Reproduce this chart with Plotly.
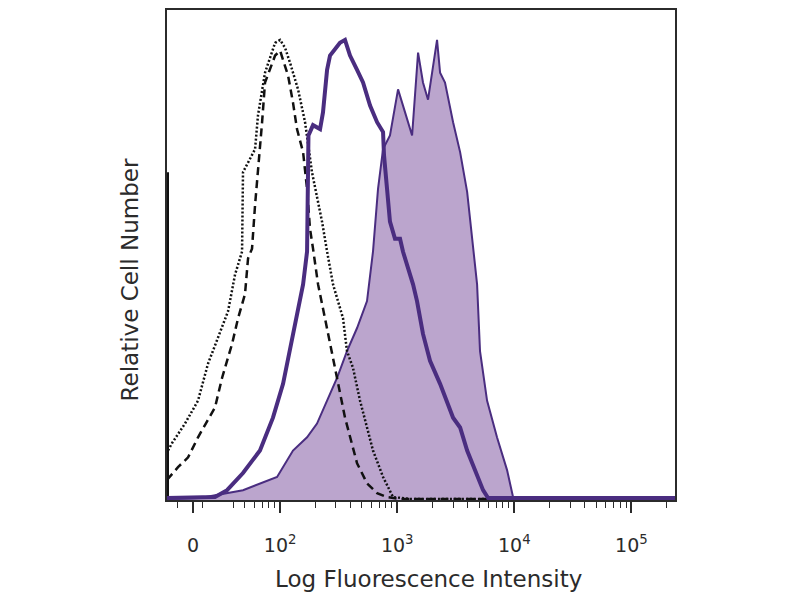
import plotly.graph_objects as go
import math

# x values are in display decades of the biexponential axis (2 = 10^2, 3 = 10^3 ...)
# y values are relative cell number (% of max scale)

stained_x = [1.034, 1.316, 1.683, 1.828, 1.974, 2.110, 2.230, 2.315, 2.401, 2.486, 2.571, 2.657,
             2.742, 2.768, 2.793, 2.836, 2.879, 2.938, 3.007, 3.067, 3.127, 3.178, 3.220, 3.263,
             3.340, 3.366, 3.408, 3.477, 3.537, 3.597, 3.648, 3.682, 3.707, 3.767, 3.852, 3.938,
             3.989, 4.049, 5.372]
stained_y = [0.2, 0.4, 2.0, 3.4, 4.7, 10.1, 12.8, 15.6, 20.3, 24.9, 30.4, 35.1,
             40.6, 45.2, 50.7, 63.5, 71.6, 74.4, 83.8, 79.1, 74.4, 91.3, 85.2, 81.7,
             93.9, 87.2, 85.2, 77.1, 71.0, 62.9, 51.7, 44.0, 30.4, 20.3, 12.8, 6.1,
             0.6, 0.2, 0.2]

purple_x = [1.034, 1.444, 1.547, 1.683, 1.828, 1.939, 2.025, 2.110, 2.196, 2.230, 2.238, 2.242,
            2.281, 2.341, 2.366, 2.401, 2.426, 2.511, 2.554, 2.597, 2.657, 2.708, 2.768, 2.828,
            2.879, 2.887, 2.913, 2.938, 2.981, 3.024, 3.049, 3.135, 3.169, 3.220, 3.280, 3.366,
            3.477, 3.537, 3.597, 3.682, 3.733, 3.776, 5.372]
purple_y = [0.4, 0.6, 2.0, 5.5, 10.1, 16.8, 23.7, 33.9, 44.0, 50.7, 66.9, 74.4,
            76.5, 75.7, 79.1, 87.8, 90.7, 93.3, 93.9, 90.7, 87.8, 85.2, 80.5, 77.1,
            75.1, 70.4, 63.5, 56.8, 53.3, 53.3, 50.7, 44.0, 40.6, 33.9, 28.4, 23.7,
            16.8, 14.8, 10.1, 4.7, 2.0, 0.4, 0.4]

dotted_x = [1.043, 1.077, 1.188, 1.299, 1.384, 1.470, 1.555, 1.615, 1.675, 1.683, 1.786,
            1.811, 1.871, 1.957, 2.000, 2.042, 2.085, 2.153, 2.213, 2.272, 2.358, 2.401, 2.452,
            2.537, 2.571, 2.622, 2.682, 2.742, 2.793, 2.879, 2.964, 3.110, 5.372]
dotted_y = [10.1, 11.6, 15.6, 20.3, 27.8, 33.1, 38.5, 46.0, 50.7, 66.9, 71.6,
            78.5, 87.2, 93.3, 93.9, 92.3, 89.2, 83.8, 77.1, 66.9, 56.8, 50.7, 44.0,
            37.1, 30.4, 27.0, 20.3, 14.8, 10.1, 4.7, 0.6, 0.2, 0.2]

dashed_x = [1.034, 1.128, 1.214, 1.299, 1.444, 1.504, 1.589, 1.641, 1.700, 1.726, 1.760, 1.786,
            1.846, 1.871, 1.957, 2.000, 2.068, 2.110, 2.144, 2.196, 2.230, 2.255, 2.281, 2.324,
            2.383, 2.443, 2.494, 2.554, 2.657, 2.742, 2.828, 2.913, 3.024, 5.372]
dashed_y = [4.1, 6.7, 8.7, 12.8, 18.9, 24.9, 31.8, 37.1, 42.0, 49.3, 51.3, 60.2,
            77.1, 85.2, 90.7, 91.7, 86.6, 81.1, 75.7, 71.0, 63.5, 55.4, 51.3, 44.0,
            37.1, 29.8, 23.7, 16.8, 7.5, 3.4, 1.4, 0.6, 0.2, 0.2]

# events piled up at the lower axis limit
pileup_x = [1.034, 1.034]
pileup_y = [0, 66.9]

tick_vals = [1.256, 2, 3, 4, 5]
tick_text = ["0", "10<sup>2</sup>", "10<sup>3</sup>", "10<sup>4</sup>", "10<sup>5</sup>"]
minor_vals = [1.12, 1.256, 1.34, 1.60, 1.70, 1.78, 1.85, 1.90, 1.95] + \
             [round(d + math.log10(k), 3) for d in (2, 3, 4) for k in range(2, 10)] + [5.30]

x_range = [1.034, 5.372]
y_range = [0, 100]

ink = "#2b2b2b"
line_purple = "#4a2d80"
fill_purple = "#bba5cd"

fig = go.Figure()
fig.add_trace(go.Scatter(x=stained_x, y=stained_y, mode="lines", fill="tozeroy",
                         fillcolor=fill_purple, line=dict(color=line_purple, width=2),
                         showlegend=False, hoverinfo="skip"))
fig.add_trace(go.Scatter(x=dashed_x, y=dashed_y, mode="lines",
                         line=dict(color="#111111", width=2.5, dash="8px,5px"),
                         showlegend=False, hoverinfo="skip"))
fig.add_trace(go.Scatter(x=dotted_x, y=dotted_y, mode="lines",
                         line=dict(color="#111111", width=2.5, dash="2px,2px"),
                         showlegend=False, hoverinfo="skip"))
fig.add_trace(go.Scatter(x=pileup_x, y=pileup_y, mode="lines",
                         line=dict(color="#111111", width=4),
                         showlegend=False, hoverinfo="skip"))
fig.add_trace(go.Scatter(x=purple_x, y=purple_y, mode="lines",
                         line=dict(color=line_purple, width=4),
                         showlegend=False, hoverinfo="skip"))

fig.update_layout(
    width=792, height=592,
    margin=dict(l=159, r=125, t=0, b=100),
    paper_bgcolor="white", plot_bgcolor="white",
    font=dict(family="DejaVu Sans", color=ink, size=19),
    xaxis=dict(range=x_range, showgrid=False, zeroline=False,
               showline=True, linecolor=ink, linewidth=2, mirror=True,
               tickmode="array", tickvals=tick_vals, ticktext=tick_text,
               ticks="outside", ticklen=11, tickwidth=1.5, tickcolor=ink,
               tickfont=dict(family="DejaVu Sans", size=19, color=ink),
               ticklabelstandoff=16,
               minor=dict(tickmode="array", tickvals=minor_vals, ticks="outside",
                          ticklen=6, tickwidth=1.2, tickcolor=ink, showgrid=False)),
    yaxis=dict(range=y_range, showgrid=False, zeroline=False,
               showline=True, linecolor=ink, linewidth=2, mirror=True,
               showticklabels=False, ticks=""),
    annotations=[
        dict(text="Log Fluorescence Intensity", xref="paper", yref="paper",
             x=0.514, y=-0.162, xanchor="center", yanchor="middle", showarrow=False,
             font=dict(family="DejaVu Sans", size=23, color=ink)),
        dict(text="Relative Cell Number", xref="paper", yref="paper",
             x=-0.073, y=0.45, xanchor="center", yanchor="middle", showarrow=False,
             textangle=-90, font=dict(family="DejaVu Sans", size=23, color=ink)),
    ],
)

fig.write_html("out.html")
